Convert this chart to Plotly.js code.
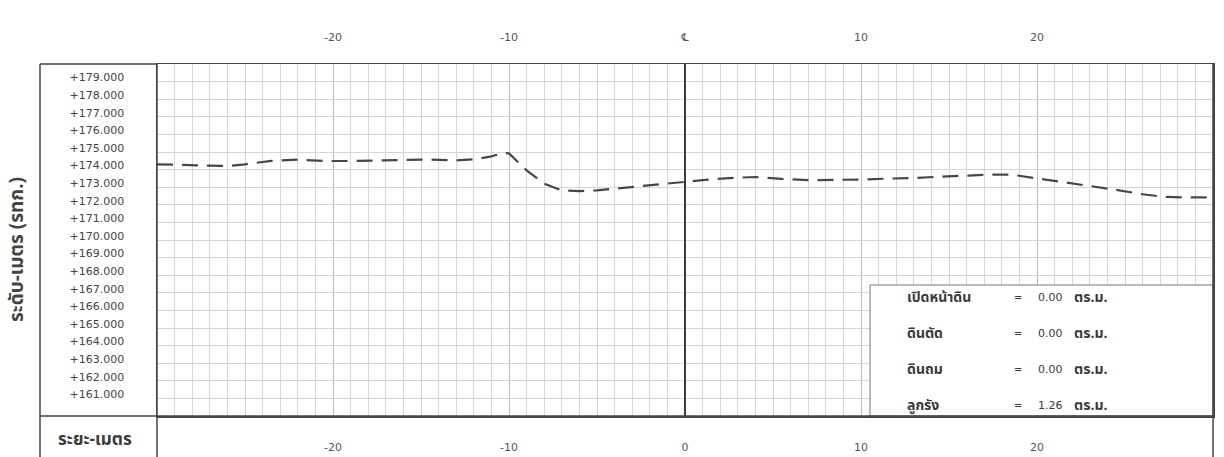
<!DOCTYPE html>
<html>
<head>
<meta charset="utf-8">
<script src="https://cdn.plot.ly/plotly-3.0.1.min.js"></script>
<style>
  html, body { margin: 0; padding: 0; background: #ffffff; }
  #chart { width: 1224px; height: 457px; }
</style>
</head>
<body>
<div id="chart"></div>
<script>
// ---- data (offset in metres, level in metres MSL) ----
const offsetM = [-30, -28, -26, -25, -23.5, -22, -20.5, -19, -17.5, -16, -14.5, -13, -12, -11, -10.3, -10,
                 -9, -8, -7, -6, -5, -3.5, -2, 0, 1, 2.5, 4, 5.5, 7, 8.5, 10, 11.5, 13, 14.5, 16, 17.5,
                 18.5, 20, 21.5, 23, 24.5, 26, 27.2, 28.5, 30];
const groundLevel = [174.30, 174.23, 174.20, 174.30, 174.50, 174.57, 174.49, 174.49, 174.54, 174.55, 174.57,
                     174.52, 174.58, 174.75, 174.95, 174.92, 173.95, 173.20, 172.82, 172.78, 172.82, 172.97,
                     173.10, 173.30, 173.40, 173.52, 173.58, 173.47, 173.40, 173.42, 173.43, 173.49, 173.52,
                     173.60, 173.68, 173.72, 173.72, 173.50, 173.30, 173.10, 172.85, 172.60, 172.45, 172.42, 172.42];

const yTickVals   = [161,162,163,164,165,166,167,168,169,170,171,172,173,174,175,176,177,178,179];
const yTickLabels = ['+161.000','+162.000','+163.000','+164.000','+165.000','+166.000','+167.000',
                     '+168.000','+169.000','+170.000','+171.000','+172.000','+173.000','+174.000',
                     '+175.000','+176.000','+177.000','+178.000','+179.000'];
const xTickVals      = [-20, -10, 0, 10, 20];
const xTickLabels    = ['-20', '-10', '0', '10', '20'];
const topTickLabels  = ['-20', '-10', '\u2104', '10', '20'];

const qtyNames  = ['เปิดหน้าดิน', 'ดินตัด', 'ดินถม', 'ลูกรัง'];
const qtyValues = ['0.00', '0.00', '0.00', '1.26'];
const qtyUnit   = 'ตร.ม.';
const yTitle    = 'ระดับ-เมตร (รทก.)';
const xTitle    = 'ระยะ-เมตร';

// ---- layout helpers (pixels -> paper) ----
const W = 1224, H = 457, ML = 157, MR = 11, MT = 64, MB = 41;
const PW = W - ML - MR, PH = H - MT - MB;
const px = v => (v - ML) / PW;
const py = v => (H - MB - v) / PH;

const FONT = '"DejaVu Sans", "Noto Sans", sans-serif';
const THAI = '"Noto Sans Thai", "Noto Sans Thai UI", "Loma", "Garuda", "Tahoma", "DejaVu Sans", sans-serif';
const INK = '#3a3a3a';

const traces = [
  {
    x: offsetM, y: groundLevel, type: 'scatter', mode: 'lines',
    line: { color: '#474747', width: 2.2, dash: '16px,9px' },
    hoverinfo: 'skip', showlegend: false
  },
  {
    x: offsetM, y: groundLevel, type: 'scatter', mode: 'lines', xaxis: 'x2', yaxis: 'y',
    line: { width: 0 }, opacity: 0, hoverinfo: 'skip', showlegend: false
  }
];

const annotations = [
  { xref: 'paper', yref: 'paper', x: px(18), y: py(250), xanchor: 'center', yanchor: 'middle',
    text: yTitle, textangle: -90, showarrow: false,
    font: { family: THAI, size: 19, color: '#444444', weight: 'bold' } },
  { xref: 'paper', yref: 'paper', x: px(95), y: py(440), xanchor: 'center', yanchor: 'middle',
    text: xTitle, showarrow: false, font: { family: THAI, size: 17, color: INK, weight: 'bold' } }
];
const rowY = [297, 333, 369, 405];
qtyNames.forEach((n, i) => {
  annotations.push({ xref: 'paper', yref: 'paper', x: px(905), y: py(rowY[i]), xanchor: 'left', yanchor: 'middle',
    text: n, showarrow: false, font: { family: THAI, size: 14, color: INK, weight: 'bold' } });
  annotations.push({ xref: 'paper', yref: 'paper', x: px(1018), y: py(rowY[i]), xanchor: 'center', yanchor: 'middle',
    text: '=', showarrow: false, font: { family: FONT, size: 10, color: INK } });
  annotations.push({ xref: 'paper', yref: 'paper', x: px(1065), y: py(rowY[i]), xanchor: 'right', yanchor: 'middle',
    text: qtyValues[i], showarrow: false, font: { family: FONT, size: 11, color: INK } });
  annotations.push({ xref: 'paper', yref: 'paper', x: px(1072), y: py(rowY[i]), xanchor: 'left', yanchor: 'middle',
    text: qtyUnit, showarrow: false, font: { family: THAI, size: 14, color: INK, weight: 'bold' } });
});

const frame = { color: '#444444', width: 1.5 };
const shapes = [
  // quantity box
  { type: 'rect', xref: 'paper', yref: 'paper', x0: px(870), x1: 1, y0: 0, y1: py(285),
    fillcolor: '#ffffff', line: { color: '#777777', width: 1 }, layer: 'above' },
  // outer frame: left column and bottom strip
  { type: 'line', xref: 'paper', yref: 'paper', x0: px(40), x1: px(40), y0: 1, y1: -0.3, line: frame },
  { type: 'line', xref: 'paper', yref: 'paper', x0: px(40), x1: 0, y0: 1, y1: 1, line: frame },
  { type: 'line', xref: 'paper', yref: 'paper', x0: px(40), x1: 1, y0: 0, y1: 0, line: frame },
  { type: 'line', xref: 'paper', yref: 'paper', x0: 0, x1: 0, y0: 1, y1: -0.3, line: frame },
  { type: 'line', xref: 'paper', yref: 'paper', x0: 1, x1: 1, y0: 1, y1: -0.3, line: frame }
];

const layout = {
  width: W, height: H,
  margin: { l: ML, r: MR, t: MT, b: MB, pad: 0 },
  paper_bgcolor: '#ffffff', plot_bgcolor: '#ffffff',
  showlegend: false,
  xaxis: {
    range: [-30, 30], tickmode: 'array', tickvals: xTickVals, ticktext: xTickLabels,
    showgrid: true, gridcolor: '#b9b9b9', gridwidth: 1,
    minor: { dtick: 1, tick0: 0, showgrid: true, gridcolor: '#d6d6d6', gridwidth: 1, ticks: '' },
    zeroline: true, zerolinecolor: '#3c3c3c', zerolinewidth: 1.3,
    showline: true, linecolor: '#444444', linewidth: 1.5, mirror: true,
    ticks: '', ticklabelstandoff: 20,
    tickfont: { family: FONT, size: 11, color: '#555555' }, fixedrange: true
  },
  xaxis2: {
    overlaying: 'x', side: 'top', anchor: 'y', matches: 'x',
    range: [-30, 30], tickmode: 'array', tickvals: xTickVals, ticktext: topTickLabels,
    showgrid: false, zeroline: false, showline: false, ticks: '', ticklabelstandoff: 20,
    tickfont: { family: FONT, size: 11, color: '#555555' }, fixedrange: true
  },
  yaxis: {
    range: [160, 180], tickmode: 'array', tickvals: yTickVals, ticktext: yTickLabels,
    showgrid: true, gridcolor: '#d6d6d6', gridwidth: 1, zeroline: false,
    showline: true, linecolor: '#444444', linewidth: 1.5, mirror: true,
    ticks: '', ticklabelstandoff: 29, ticklabelshift: -4,
    tickfont: { family: FONT, size: 11, color: '#444444' }, fixedrange: true
  },
  annotations: annotations,
  shapes: shapes
};

Plotly.newPlot('chart', traces, layout, { displayModeBar: false, staticPlot: true });
</script>
</body>
</html>
